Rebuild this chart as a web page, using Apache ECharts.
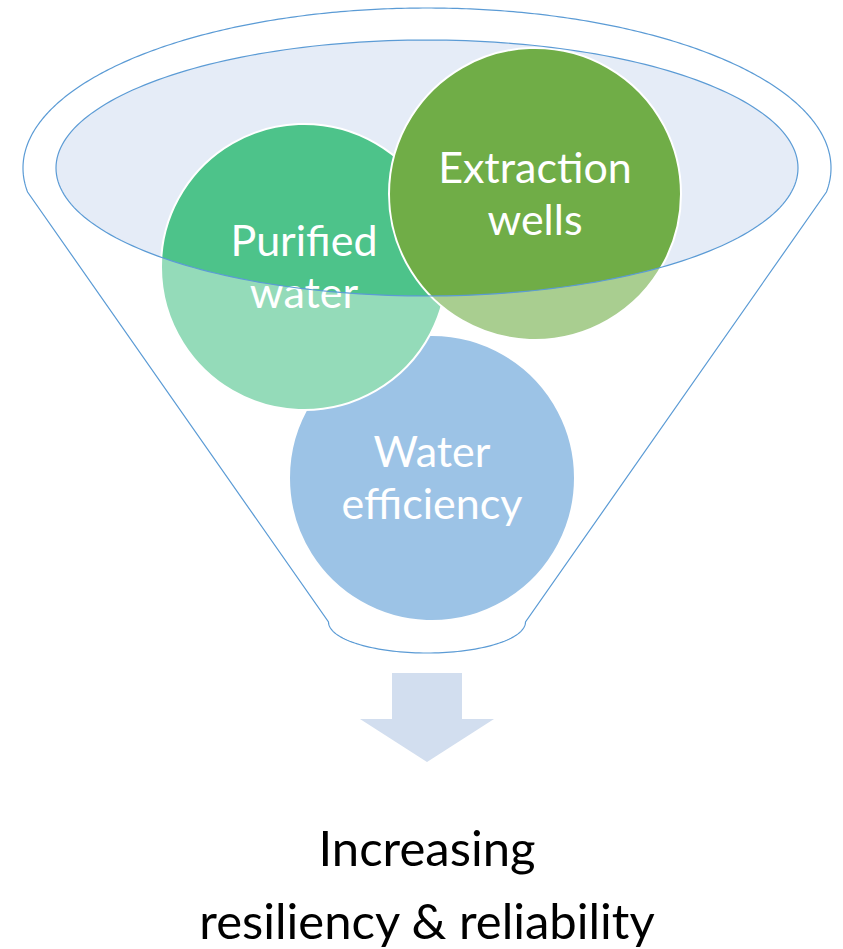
<!DOCTYPE html>
<html>
<head>
<meta charset="utf-8">
<script src="https://cdn.jsdelivr.net/npm/echarts@6/dist/echarts.min.js"></script>
<style>
html,body{margin:0;padding:0;background:#ffffff;}
#chart{width:843px;height:949px;}
</style>
</head>
<body>
<div id="chart"></div>
<script>
// ---------------- data ----------------
// circles, listed from back to front
const circleLabels = ['Water\nefficiency', 'Purified\nwater', 'Extraction\nwells'];
const circleX = [432, 304, 535];
const circleY = [478, 267, 194];
const circleR = [143, 143, 146];
const footerLines = ['Increasing', 'resiliency & reliability'];

// ---------------- geometry of the funnel (diagram units) ----------------
const RIM = {cx: 427, cy: 168, rx: 404, ry: 160, lip: 24};
const MOUTH = {cx: 427, cy: 168, rx: 371, ry: 128};
const SPOUT = {cx: 427, cy: 622, rx: 98.5, ry: 31};
const ARROW = {cx: 427, top: 673, shaftHalf: 35, neck: 719, headHalf: 67, tip: 762};
const FOOTER = {cx: 427, baselines: [864, 937]};

// ---------------- styles ----------------
const COLORS = {
  outline: '#5B9BD5',
  mouth: '#E5ECF7',
  circles: ['#5B9BD5', '#4DC38A', '#70AD47'],
  arrow: '#D2DEEF',
  veil: 'rgba(255,255,255,0.4)'
};
const FONT = 'Lato, "Open Sans", sans-serif';
const CIRCLE_FONT_SIZE = 43;
const FOOTER_FONT_SIZE = 49;

function ellPts(e, t0, t1, n) {
  const pts = [];
  for (let i = 0; i <= n; i++) {
    const t = t0 + (t1 - t0) * i / n;
    pts.push([e.cx + e.rx * Math.cos(t), e.cy + e.ry * Math.sin(t)]);
  }
  return pts;
}
function outerContour() {
  const a = Math.asin(RIM.lip / RIM.ry);
  let pts = ellPts(RIM, -Math.PI / 2, a, 160);
  pts = pts.concat(ellPts(SPOUT, 0, Math.PI, 80));
  pts = pts.concat(ellPts(RIM, Math.PI - a, 1.5 * Math.PI, 160));
  return pts;
}
function mouthLoop(reverse) {
  return reverse ? ellPts(MOUTH, -Math.PI / 2, -2.5 * Math.PI, 240)
                 : ellPts(MOUTH, -Math.PI / 2, 1.5 * Math.PI, 240);
}
function toPx(api, pts) { return pts.map(p => api.coord(p)); }

const chart = echarts.init(document.getElementById('chart'), null, {renderer: 'svg'});

const option = {
  animation: false,
  backgroundColor: '#ffffff',
  grid: {left: 0, right: 0, top: 0, bottom: 0},
  xAxis: {type: 'value', min: 0, max: 843, show: false},
  yAxis: {type: 'value', min: 0, max: 949, inverse: true, show: false},
  series: [
    // mouth fill
    {
      type: 'custom', name: 'mouth', z: 1, silent: true,
      data: [[MOUTH.cx, MOUTH.cy]],
      renderItem: function (params, api) {
        return {
          type: 'polygon',
          shape: {points: toPx(api, mouthLoop(false))},
          style: {fill: COLORS.mouth, stroke: null}
        };
      }
    },
    // circles
    {
      type: 'custom', name: 'circles', z: 2, silent: true,
      data: circleLabels.map((l, i) => [circleX[i], circleY[i], circleR[i], i]),
      renderItem: function (params, api) {
        const i = params.dataIndex;
        const c = api.coord([api.value(0), api.value(1)]);
        const r = api.size([api.value(2), 0])[0];
        const lines = circleLabels[i].split('\n');
        const children = [{
          type: 'circle',
          shape: {cx: c[0], cy: c[1], r: r},
          style: {fill: COLORS.circles[i], stroke: '#ffffff', lineWidth: 2}
        }];
        const lh = api.size([0, 52])[1];
        lines.forEach((txt, k) => {
          const baseY = c[1] - api.size([0, 13])[1] + k * lh;
          children.push({
            type: 'text',
            z2: 10,
            style: {
              text: txt, x: c[0], y: baseY - CIRCLE_FONT_SIZE * 0.34,
              fill: '#ffffff', font: CIRCLE_FONT_SIZE + 'px ' + FONT,
              align: 'center', verticalAlign: 'middle'
            }
          });
        });
        return {type: 'group', children: children};
      }
    },
    // translucent veil over funnel body (outer contour minus mouth)
    {
      type: 'custom', name: 'veil', z: 3, silent: true,
      data: [[RIM.cx, RIM.cy]],
      renderItem: function (params, api) {
        const pts = outerContour().concat(mouthLoop(true));
        return {
          type: 'polygon',
          shape: {points: toPx(api, pts)},
          style: {fill: COLORS.veil, stroke: null}
        };
      }
    },
    // outlines
    {
      type: 'custom', name: 'outlines', z: 4, silent: true,
      data: [[RIM.cx, RIM.cy]],
      renderItem: function (params, api) {
        return {
          type: 'group',
          children: [
            {type: 'polygon', shape: {points: toPx(api, outerContour())},
             style: {fill: null, stroke: COLORS.outline, lineWidth: 1.2}},
            {type: 'polygon', shape: {points: toPx(api, mouthLoop(false))},
             style: {fill: null, stroke: COLORS.outline, lineWidth: 1.2}}
          ]
        };
      }
    },
    // arrow
    {
      type: 'custom', name: 'arrow', z: 2, silent: true,
      data: [[ARROW.cx, ARROW.top]],
      renderItem: function (params, api) {
        const A = ARROW;
        const pts = [
          [A.cx - A.shaftHalf, A.top], [A.cx + A.shaftHalf, A.top],
          [A.cx + A.shaftHalf, A.neck], [A.cx + A.headHalf, A.neck],
          [A.cx, A.tip], [A.cx - A.headHalf, A.neck], [A.cx - A.shaftHalf, A.neck]
        ];
        return {type: 'polygon', shape: {points: toPx(api, pts)}, style: {fill: COLORS.arrow, stroke: null}};
      }
    },
    // footer text
    {
      type: 'custom', name: 'footer', z: 2, silent: true,
      data: footerLines.map((t, i) => [FOOTER.cx, FOOTER.baselines[i]]),
      renderItem: function (params, api) {
        const p = api.coord([api.value(0), api.value(1)]);
        return {
          type: 'text',
          style: {
            text: footerLines[params.dataIndex], x: p[0], y: p[1] - FOOTER_FONT_SIZE * 0.34,
            fill: '#000000', font: FOOTER_FONT_SIZE + 'px ' + FONT,
            align: 'center', verticalAlign: 'middle'
          }
        };
      }
    }
  ]
};
chart.setOption(option);
</script>
</body>
</html>
